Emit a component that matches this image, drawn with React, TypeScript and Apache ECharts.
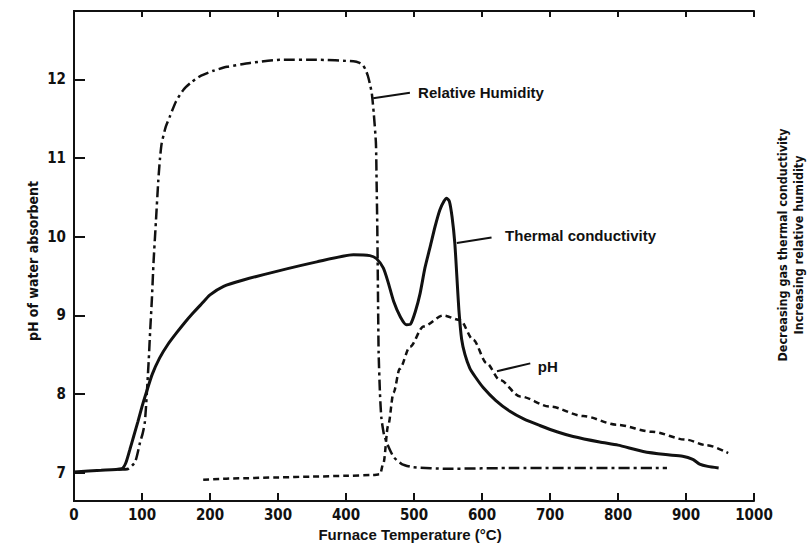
import React, { useEffect, useRef } from "react";
import * as echarts from "echarts";

// Furnace temperature (°C) ticks and pH ticks
const temperatureTicks = [0, 100, 200, 300, 400, 500, 600, 700, 800, 900, 1000];
const phTicks = [7, 8, 9, 10, 11, 12];

// Thermal conductivity (solid)
const thermalTemp = [0, 40, 70, 76, 82, 88, 94, 100, 106, 115, 126, 138, 151, 163, 175, 188, 200, 220, 249, 298, 357, 411, 435, 445, 455, 462, 470, 480, 489, 495, 502, 509, 516, 524, 531, 538, 544, 548, 552, 556, 560, 563, 566, 570, 575, 582, 590, 602, 620, 641, 662, 685, 710, 734, 773, 800, 837, 870, 895, 910, 920, 932, 948];
const thermalValue = [7.01, 7.03, 7.05, 7.12, 7.29, 7.47, 7.65, 7.84, 8.01, 8.25, 8.46, 8.63, 8.78, 8.91, 9.03, 9.15, 9.26, 9.37, 9.45, 9.56, 9.68, 9.77, 9.76, 9.72, 9.6, 9.42, 9.18, 8.98, 8.88, 8.89, 9.05, 9.28, 9.6, 9.88, 10.13, 10.34, 10.45, 10.49, 10.45, 10.25, 9.92, 9.5, 9.07, 8.7, 8.5, 8.33, 8.22, 8.08, 7.92, 7.78, 7.68, 7.6, 7.52, 7.46, 7.39, 7.35, 7.27, 7.23, 7.21, 7.17, 7.11, 7.08, 7.06];

// Relative humidity (dash-dot)
const humidityTemp = [65, 80, 90, 97, 101, 104, 106, 108, 110, 112, 114.5, 117, 120.5, 124, 126.5, 129, 135, 141, 150, 161, 172, 185, 205, 225, 259, 303, 357, 411, 420, 425, 429, 432, 435, 438, 441, 444, 445, 446, 447, 448, 450, 452, 456, 462, 470, 482, 499, 550, 650, 760, 872];
const humidityValue = [7.04, 7.05, 7.14, 7.38, 7.5, 7.63, 7.85, 8.14, 8.45, 8.8, 9.2, 9.68, 10.2, 10.72, 11.0, 11.19, 11.4, 11.53, 11.72, 11.87, 11.96, 12.04, 12.11, 12.16, 12.21, 12.25, 12.25, 12.23, 12.21, 12.18, 12.12, 12.05, 11.95, 11.82, 11.55, 11.19, 10.7, 10.13, 9.3, 8.52, 8.0, 7.7, 7.48, 7.34, 7.2, 7.11, 7.07, 7.05, 7.06, 7.06, 7.06];

// pH of water absorbent (dashed)
const phTemp = [190, 250, 300, 350, 400, 440, 450, 455, 462, 470, 479, 494, 514, 543, 568, 587, 607, 626, 656, 700, 749, 798, 850, 900, 930, 962];
const phValue = [6.91, 6.93, 6.94, 6.95, 6.96, 6.97, 6.98, 7.12, 7.6, 8.02, 8.32, 8.6, 8.86, 9.0, 8.94, 8.69, 8.39, 8.18, 7.97, 7.84, 7.72, 7.61, 7.52, 7.42, 7.35, 7.25];

// Annotations: label, leader start [temp, value], leader end, text anchor
const annotationLabels = ["Relative Humidity", "Thermal conductivity", "pH"];
const annotationFrom = [[440, 11.76], [563, 9.92], [622, 8.29]];
const annotationTo = [[494, 11.83], [614, 9.99], [671, 8.39]];
const annotationText = [[506, 11.83], [634, 10.01], [682, 8.35]];

const Y_MIN = 6.64;
const Y_MAX = 12.87;
const INK = "#111";
const NARROW = "'Liberation Sans Narrow', 'DejaVu Sans Condensed', sans-serif";
const WIDE = "'Liberation Sans', Arial, sans-serif";

const zip = (xs: number[], ys: number[]) => xs.map((x, i) => [x, ys[i]]);

export default function App() {
  const ref = useRef<HTMLDivElement>(null);

  useEffect(() => {
    document.body.style.margin = "0";
    const chart = echarts.init(ref.current!, null, { renderer: "svg" });
    const axisLine = { show: true, lineStyle: { color: INK, width: 2 } };
    chart.setOption({
      animation: false,
      backgroundColor: "#fff",
      grid: { left: 74, right: 54, top: 11, bottom: 46 },
      xAxis: [
        {
          type: "value",
          position: "bottom",
          min: 0,
          max: 1000,
          interval: 100,
          axisLine,
          axisTick: { show: true, inside: true, length: 8, lineStyle: { color: INK, width: 2 } },
          axisLabel: {
            color: INK,
            fontFamily: NARROW,
            fontWeight: "bold",
            fontSize: 15,
            margin: 6,
            formatter: (v: number) => (temperatureTicks.includes(v) ? String(v) : ""),
          },
          splitLine: { show: false },
        },
        {
          type: "value",
          position: "top",
          min: 0,
          max: 1000,
          interval: 100,
          axisLine,
          axisTick: { show: true, inside: true, length: 6, lineStyle: { color: INK, width: 2 } },
          axisLabel: { show: false },
          splitLine: { show: false },
        },
      ],
      yAxis: [
        {
          type: "value",
          position: "left",
          min: Y_MIN,
          max: Y_MAX,
          axisLine,
          axisTick: { show: true, inside: true, length: 11, customValues: phTicks, lineStyle: { color: INK, width: 2 } },
          axisLabel: {
            customValues: phTicks,
            color: INK,
            fontFamily: NARROW,
            fontWeight: "bold",
            fontSize: 15,
            margin: 8,
          },
          splitLine: { show: false },
        },
        {
          type: "value",
          position: "right",
          min: Y_MIN,
          max: Y_MAX,
          axisLine,
          axisTick: { show: false },
          axisLabel: { show: false },
          splitLine: { show: false },
        },
      ],
      series: [
        {
          name: "Thermal conductivity",
          type: "line",
          data: zip(thermalTemp, thermalValue),
          showSymbol: false,
          smooth: 0.2,
          lineStyle: { color: INK, width: 3, type: "solid" },
        },
        {
          name: "Relative Humidity",
          type: "line",
          data: zip(humidityTemp, humidityValue),
          showSymbol: false,
          smooth: 0.2,
          lineStyle: { color: INK, width: 2.5, type: [11, 4, 3, 4] },
        },
        {
          name: "pH",
          type: "line",
          data: zip(phTemp, phValue),
          showSymbol: false,
          smooth: 0.3,
          smoothMonotone: "x",
          lineStyle: { color: INK, width: 2.5, type: [6, 4] },
        },
      ],
    });

    const toPx = (p: number[]) => chart.convertToPixel({ seriesIndex: 0 }, p) as number[];
    const graphics: any[] = [];
    annotationLabels.forEach((label, i) => {
      const a = toPx(annotationFrom[i]);
      const b = toPx(annotationTo[i]);
      const t = toPx(annotationText[i]);
      graphics.push({
        type: "line",
        shape: { x1: a[0], y1: a[1], x2: b[0], y2: b[1] },
        style: { stroke: INK, lineWidth: 2 },
      });
      graphics.push({
        type: "text",
        x: t[0],
        y: t[1],
        style: {
          text: label,
          fill: INK,
          font: `bold 15px ${WIDE}`,
          textAlign: "left",
          textVerticalAlign: "middle",
        },
      });
    });
    graphics.push({
      type: "text",
      x: 410,
      y: 534,
      style: {
        text: "Furnace Temperature (°C)",
        fill: INK,
        font: `bold 15px ${WIDE}`,
        textAlign: "center",
        textVerticalAlign: "middle",
      },
    });
    graphics.push({
      type: "text",
      x: 33,
      y: 261,
      rotation: Math.PI / 2,
      style: {
        text: "pH of water absorbent",
        fill: INK,
        font: `bold 14px ${NARROW}`,
        textAlign: "center",
        textVerticalAlign: "middle",
      },
    });
    graphics.push({
      type: "text",
      x: 782,
      y: 245,
      rotation: Math.PI / 2,
      style: {
        text: "Decreasing gas thermal conductivity",
        fill: INK,
        font: `bold 12.5px ${NARROW}`,
        textAlign: "center",
        textVerticalAlign: "middle",
      },
    });
    graphics.push({
      type: "text",
      x: 798,
      y: 245,
      rotation: Math.PI / 2,
      style: {
        text: "Increasing relative humidity",
        fill: INK,
        font: `bold 12.5px ${NARROW}`,
        textAlign: "center",
        textVerticalAlign: "middle",
      },
    });
    chart.setOption({ graphic: graphics });

    return () => chart.dispose();
  }, []);

  return <div ref={ref} style={{ width: 808, height: 547 }} />;
}
